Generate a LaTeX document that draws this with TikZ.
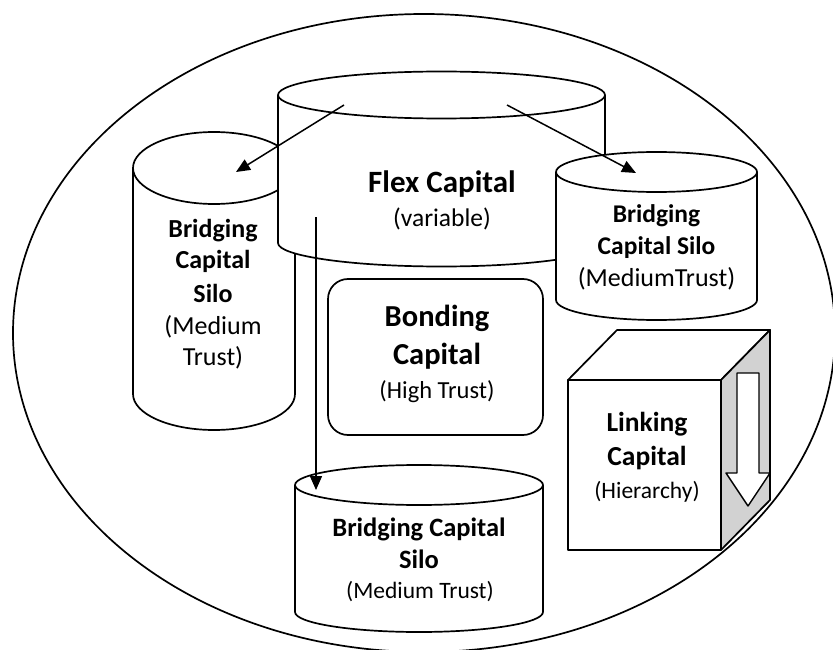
\documentclass[tikz,border=0pt]{standalone}
\usepackage{fontspec}
\setmainfont{Carlito}
\usetikzlibrary{arrows.meta}
\definecolor{sidegray}{RGB}{210,210,210}
\tikzset{
  outline/.style={line width=1.7pt, draw=black, line join=round},
  shapefill/.style={outline, fill=white},
  conn/.style={line width=1.5pt, -{Triangle[length=14pt,width=12pt]}},
  bt/.style={font=\bfseries\fontsize{#1}{#1}\selectfont, anchor=base, inner sep=0pt},
  rt/.style={font=\fontsize{#1}{#1}\selectfont, anchor=base, inner sep=0pt},
}
\newcommand\silocyl[5]{% cx, top cy, bottom cy, rx, ry
  \filldraw[shapefill] ({#1-#4},#2) -- ({#1-#4},#3)
    arc[start angle=180,end angle=360,x radius=#4pt,y radius=#5pt]
    -- ({#1+#4},#2)
    arc[start angle=0,end angle=180,x radius=#4pt,y radius=#5pt] -- cycle;
  \draw[outline] ({#1-#4},#2) arc[start angle=180,end angle=360,x radius=#4pt,y radius=#5pt];
}
\begin{document}
\begin{tikzpicture}[x=1pt,y=-1pt]
\useasboundingbox (0,0) rectangle (833,650);
\fill[white] (0,0) rectangle (833,650);

% outer ellipse
\draw[outline] (424,333) ellipse [x radius=411pt, y radius=319pt];

% left silo
\silocyl{214}{168}{394}{81}{36}
% flex capital
\silocyl{441.5}{95}{243}{163.5}{23.5}
% right silo
\silocyl{656.5}{172}{300}{100.5}{20}
% bonding
\draw[shapefill, rounded corners=20pt] (328,279) rectangle (543,435);
% bottom silo
\silocyl{419}{485}{612}{124}{20}

% linking cube
\filldraw[shapefill] (568,380) rectangle (721,550);
\filldraw[shapefill] (568,380) -- (617,330) -- (770,330) -- (721,380) -- cycle;
\filldraw[outline, fill=sidegray] (721,380) -- (770,330) -- (770,500) -- (721,550) -- cycle;
\filldraw[outline, fill=white, line width=1.4pt] (737,373) -- (759,373) -- (759,473) -- (770,473) -- (748,506) -- (726,473) -- (737,473) -- cycle;

% connectors
\coordinate (a1s) at (344,105);
\coordinate (a1e) at (236,172);
\coordinate (a2s) at (507,105);
\coordinate (a2e) at (636,173);
\coordinate (a3s) at (316,217);
\coordinate (a3e) at (316,490);
\draw[conn] (a1s) -- (a1e);
\draw[conn] (a2s) -- (a2e);
\draw[conn] (a3s) -- (a3e);

% texts
\node[bt=31] (flex1) at (442,192.5) {Flex Capital};
\node[rt=25.5] (flex2) at (442,226.5) {(variable)};

\node[bt=26] (ls1) at (213,237) {Bridging};
\node[bt=26] (ls2) at (213,268.5) {Capital};
\node[bt=26] (ls3) at (213,302) {Silo};
\node[rt=26] (ls4) at (213,334) {(Medium};
\node[rt=26] (ls5) at (213,365) {Trust)};

\node[bt=25.5] (rs1) at (656.5,222.5) {Bridging};
\node[bt=25.5] (rs2) at (656.5,254) {Capital Silo};
\node[rt=26] (rs3) at (656.5,286.5) {(MediumTrust)};

\node[bt=30.5] (bo1) at (437,326) {Bonding};
\node[bt=30.5] (bo2) at (437,364) {Capital};
\node[rt=24.5] (bo3) at (437,398) {(High Trust)};

\node[bt=27.5] (li1) at (647,431.5) {Linking};
\node[bt=27.5] (li2) at (647,465) {Capital};
\node[rt=23.5] (li3) at (647,498) {(Hierarchy)};

\node[bt=26.5] (bs1) at (419,536.5) {Bridging Capital};
\node[bt=26.5] (bs2) at (419,568) {Silo};
\node[rt=23.5] (bs3) at (420,598) {(Medium Trust)};
\end{tikzpicture}
\end{document}
